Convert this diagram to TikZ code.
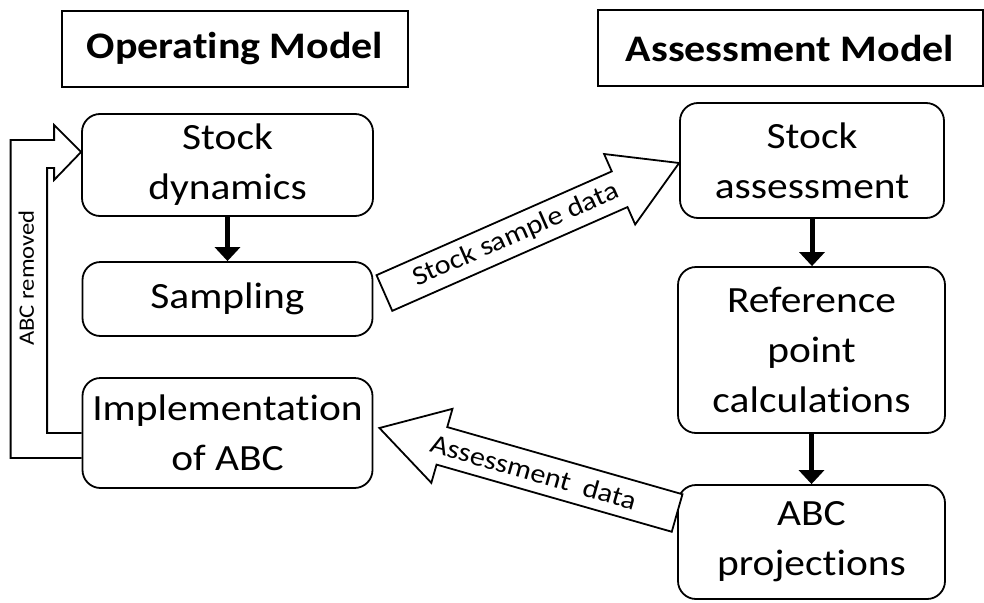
\documentclass[tikz,border=0pt]{standalone}
\usepackage{fontspec}
\setmainfont{Carlito}[FakeStretch=1.12, Ligatures=NoCommon]
\usetikzlibrary{calc,arrows.meta}

\tikzset{
  modelbox/.style={draw, line width=2pt, minimum height=76pt, inner sep=0pt,
    font=\fontsize{37.5}{45}\selectfont\bfseries},
  stepbox/.style={draw, line width=1.8pt, rounded corners=18pt, align=center,
    inner sep=0pt, font=\fontsize{37}{50}\selectfont},
  downarrow/.style={line width=5pt, -{Triangle[width=25pt,length=14pt]}},
  fatarrow/.style={draw, line width=1.8pt, fill=white, line join=miter},
  arrowlabel/.style={font=\fontsize{27}{32}\selectfont, sloped},
}

% block arrow: tail, tip, label, label position
\newcommand\blockarrow[4]{%
  \coordinate (ba-s) at ($(#2)!65pt!(#1)$);
  \draw[fatarrow] ($(#1)!19.5pt!90:(#2)$) -- ($(ba-s)!19.5pt!90:(#2)$)
    -- ($(ba-s)!38.5pt!90:(#2)$) -- (#2) -- ($(ba-s)!38.5pt!-90:(#2)$)
    -- ($(ba-s)!19.5pt!-90:(#2)$) -- ($(#1)!19.5pt!-90:(#2)$) -- cycle;
  \path (#1) -- (ba-s) node[arrowlabel, pos=#4] {#3};}

\begin{document}
\begin{tikzpicture}[x=1pt, y=-1pt]
  \useasboundingbox (0,0) rectangle (984,602);

  \node[modelbox, minimum width=346pt] (om) at (235,49) {Operating Model};
  \node[modelbox, minimum width=385pt] (am) at (790,48) {Assessment Model};

  \begin{scope}
    \node[stepbox, minimum width=291pt, minimum height=102pt] (dyn) at (227.5,165) {Stock\\dynamics};
    \node[stepbox, minimum width=290pt, minimum height=74pt] (samp) at (227.5,299) {Sampling};
    \node[stepbox, minimum width=290pt, minimum height=110pt] (impl) at (227.5,433) {Implementation\\of ABC};
  \end{scope}

  \begin{scope}
    \node[stepbox, minimum width=264pt, minimum height=115pt] (sa) at (812,160.5) {Stock\\assessment};
    \node[stepbox, minimum width=267pt, minimum height=166pt] (ref) at (811.5,350) {Reference\\point\\calculations};
    \node[stepbox, minimum width=267pt, minimum height=114pt] (proj) at (811.5,542) {ABC\\projections};
  \end{scope}

  \draw[downarrow] (dyn) -- (samp);
  \draw[downarrow] (sa.south) -- (sa.south |- ref.north);
  \draw[downarrow] (ref.south) -- (ref.south |- proj.north);

  \coordinate (ssd-t) at ($(samp.east)+(11,-6)$);
  \coordinate (ssd-h) at ($(sa.west)+(0,2.5)$);
  \blockarrow{ssd-t}{ssd-h}{Stock sample data}{0.56}

  \coordinate (ad-t) at ($(proj.west)+(0,-29)$);
  \coordinate (ad-h) at ($(impl.east)+(6,-5)$);
  \blockarrow{ad-t}{ad-h}{Assessment\ \ data}{0.61}

  % loop back to the stock
  \coordinate (lt) at ($(dyn.west)+(0,-13)$);
  \draw[line width=1.8pt, line join=miter] ($(impl.west)+(0,25)$) -- ++(-71,0)
    |- ($(lt)+(-27,-12)$) -- ++(0,-15) -- (lt) -- ++(-27,28) -- ++(0,-12)
    -- ++(-7,0) |- (impl.west);
  \node[rotate=90, font=\fontsize{22}{26}\selectfont] (rm)
    at ($(dyn.west)!0.5!(impl.west)+(-55,-21)$) {ABC removed};
\end{tikzpicture}
\end{document}
